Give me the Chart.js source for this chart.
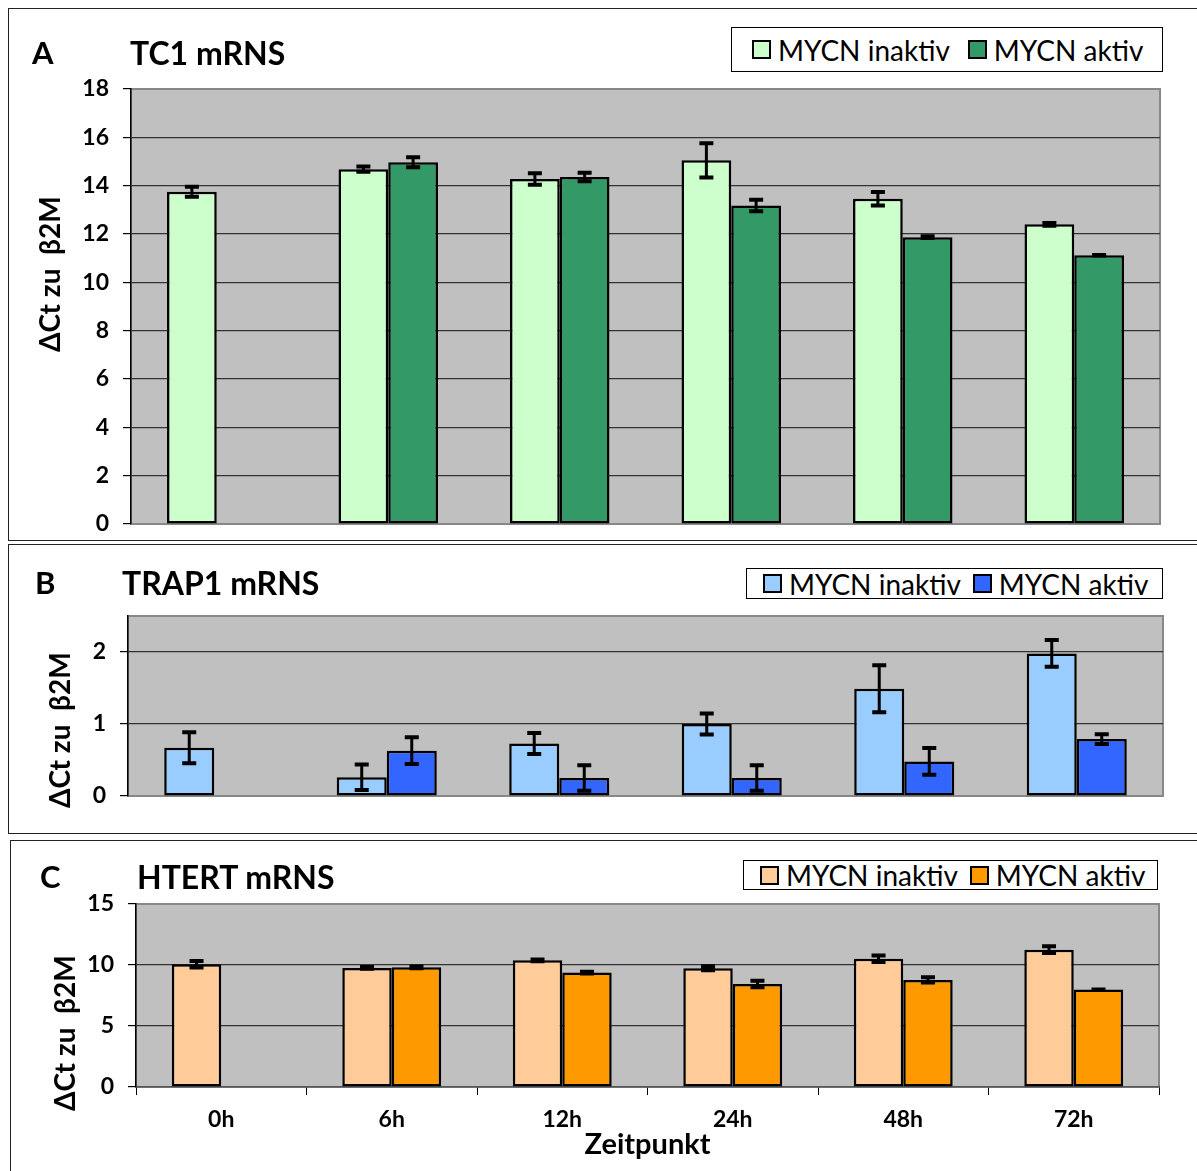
<!DOCTYPE html>
<html>
<head>
  <meta charset="UTF-8">
  <title>TC1 / TRAP1 / HTERT mRNS</title>
  <script src="https://cdn.jsdelivr.net/npm/chart.js"></script>
  <style>
    body { margin: 0; background: #fff; font-family: Lato, sans-serif; }
    #page { position: relative; width: 1197px; height: 1171px; overflow: hidden; background: #fff; }
    .panel { position: absolute; border: 1.5px solid #222; box-sizing: border-box; }
    canvas { position: absolute; left: 0; }
    .txt { position: absolute; font-weight: bold; color: #000; white-space: nowrap; line-height: 1; }
    .ytitle { position: absolute; font-weight: bold; font-size: 28px; white-space: pre; line-height: 1;
              transform-origin: 0 0; transform: rotate(-90deg); }
    .legend { position: absolute; border: 1px solid #000; background: #fff; box-sizing: border-box;
              font-size: 28px; white-space: nowrap; display: flex; align-items: center; padding-left: 20px;
              overflow: hidden; }
    .legend .sw { display: inline-block; flex-shrink: 0; width: 15px; height: 15px; border: 2px solid #000; margin-right: 7px; }
    .legend .lab { flex-shrink: 0; margin-right: 18px; line-height: 1; }
    #legB, #legC { padding-left: 16px; }
    #legB .lab, #legC .lab { margin-right: 12px; }
  </style>
</head>
<body>
<div id="page">
  <div class="panel" style="left:8px;top:8px;width:1200px;height:533px"></div>
  <div class="panel" style="left:8px;top:544px;width:1200px;height:290px"></div>
  <div class="panel" style="left:10px;top:840px;width:1200px;height:340px"></div>

  <canvas id="chartA" width="1197" height="553" style="top:0px"></canvas>
  <canvas id="chartB" width="1197" height="290" style="top:544px"></canvas>
  <canvas id="chartC" width="1197" height="331" style="top:840px"></canvas>

  <div class="txt" style="left:32px;top:37px;font-size:31px">A</div>
  <div class="txt" style="left:130px;top:37px;font-size:32px">TC1 mRNS</div>
  <div class="txt" style="left:35px;top:567px;font-size:31px">B</div>
  <div class="txt" style="left:122px;top:567px;font-size:32px">TRAP1 mRNS</div>
  <div class="txt" style="left:40px;top:861px;font-size:31px">C</div>
  <div class="txt" style="left:137px;top:861px;font-size:32px">HTERT mRNS</div>

  <div class="ytitle" style="left:35px;top:352px">ΔCt zu  β2M</div>
  <div class="ytitle" style="left:45px;top:808px">ΔCt zu  β2M</div>
  <div class="ytitle" style="left:50px;top:1111px">ΔCt zu  β2M</div>

  <div class="legend" id="legA" style="left:731px;top:27px;width:432px;height:45px"></div>
  <div class="legend" id="legB" style="left:746px;top:568px;width:417px;height:31px"></div>
  <div class="legend" id="legC" style="left:743px;top:860px;width:415px;height:30px"></div>
</div>

<script>
  // categories (time points) and series names
  const timepoints = ['0h', '6h', '12h', '24h', '48h', '72h'];
  const seriesNames = ['MYCN inaktiv', 'MYCN aktiv'];

  // A: TC1 mRNS
  const tc1Inaktiv = [13.75, 14.68, 14.28, 15.05, 13.46, 12.40];
  const tc1Aktiv   = [null, 14.97, 14.36, 13.18, 11.87, 11.12];
  const tc1InaktivErr = [0.25, 0.15, 0.28, 0.75, 0.32, 0.10];
  const tc1AktivErr   = [0, 0.25, 0.22, 0.28, 0.08, 0.05];

  // B: TRAP1 mRNS
  const trap1Inaktiv = [0.67, 0.26, 0.73, 1.00, 1.49, 1.98];
  const trap1Aktiv   = [null, 0.63, 0.25, 0.25, 0.48, 0.79];
  const trap1InaktivErr = [0.23, 0.19, 0.16, 0.16, 0.34, 0.20];
  const trap1AktivErr   = [0, 0.20, 0.19, 0.19, 0.20, 0.08];

  // C: HTERT mRNS
  const htertInaktiv = [10.06, 9.76, 10.38, 9.73, 10.52, 11.26];
  const htertAktiv   = [null, 9.81, 9.38, 8.45, 8.78, 7.99];
  const htertInaktivErr = [0.35, 0.15, 0.15, 0.25, 0.35, 0.35];
  const htertAktivErr   = [0, 0.15, 0.15, 0.35, 0.30, 0.08];

  const colorsA = ['#ccffcc', '#339966'];
  const colorsB = ['#99ccff', '#3366ff'];
  const colorsC = ['#ffcc99', '#ff9900'];

  // grey plot background + frame
  const plotBg = {
    id: 'plotBg',
    beforeDraw(chart) {
      const a = chart.chartArea, ctx = chart.ctx;
      ctx.save();
      ctx.fillStyle = '#c0c0c0';
      ctx.fillRect(a.left, a.top, a.right - a.left, a.bottom - a.top);
      ctx.strokeStyle = '#888';
      ctx.lineWidth = 2;
      ctx.strokeRect(a.left, a.top, a.right - a.left, a.bottom - a.top);
      ctx.restore();
    }
  };

  // error bars from dataset.errors
  const errorBars = {
    id: 'errorBars',
    afterDatasetsDraw(chart) {
      const ctx = chart.ctx, y = chart.scales.y;
      ctx.save();
      ctx.strokeStyle = '#000';
      chart.data.datasets.forEach((ds, i) => {
        chart.getDatasetMeta(i).data.forEach((bar, j) => {
          const v = ds.data[j];
          if (v === null) return;
          const e = ds.errors[j];
          const top = y.getPixelForValue(v + e);
          const bot = y.getPixelForValue(Math.max(v - e, 0));
          ctx.lineWidth = 3;
          ctx.beginPath();
          ctx.moveTo(bar.x, top); ctx.lineTo(bar.x, bot);
          ctx.stroke();
          ctx.lineWidth = 4;
          ctx.beginPath();
          ctx.moveTo(bar.x - 7, top + 1); ctx.lineTo(bar.x + 7, top + 1);
          ctx.moveTo(bar.x - 7, bot - 1); ctx.lineTo(bar.x + 7, bot - 1);
          ctx.stroke();
        });
      });
      ctx.restore();
    }
  };

  function makeLegend(id, colors) {
    const el = document.getElementById(id);
    seriesNames.forEach((name, i) => {
      el.innerHTML += `<span class="sw" style="background:${colors[i]}"></span><span class="lab">${name}</span>`;
    });
  }

  function makePanel(id, inaktiv, aktiv, errI, errA, colors, yMax, step, pad, showX) {
    const ctx = document.getElementById(id).getContext('2d');
    return new Chart(ctx, {
      type: 'bar',
      data: {
        labels: timepoints,
        datasets: [
          { label: seriesNames[0], data: inaktiv, errors: errI, backgroundColor: colors[0] },
          { label: seriesNames[1], data: aktiv, errors: errA, backgroundColor: colors[1] }
        ]
      },
      options: {
        responsive: false,
        animation: false,
        layout: { padding: pad },
        datasets: {
          bar: {
            borderColor: '#000', borderWidth: 2.5, borderSkipped: false,
            categoryPercentage: 0.58, barPercentage: 1.0
          }
        },
        plugins: { legend: { display: false }, tooltip: { enabled: false } },
        scales: {
          x: {
            display: showX,
            grid: { display: true, drawOnChartArea: false, tickLength: 8, color: '#000', offset: true },
            border: { display: true, color: '#555', width: 1.5 },
            ticks: { color: '#000', font: { family: 'Lato', size: 23, weight: 'bold' }, padding: 11 },
            title: { display: showX, text: 'Zeitpunkt', color: '#000', padding: 0,
                     font: { family: 'Lato', size: 29, weight: 'bold' } },
            afterFit(s) { s.height = showX ? 75 : 0; }
          },
          y: {
            min: 0, max: yMax,
            afterBuildTicks(s) { s.ticks = s.ticks.filter(t => t.value % step === 0); },
            ticks: { stepSize: step, color: '#000', padding: 14,
                     font: { family: 'Lato', size: 23, weight: 'bold' } },
            grid: {
              tickLength: 8, tickColor: '#000', lineWidth: 1.2,
              color: c => (c.tick && c.tick.value === yMax) ? 'rgba(0,0,0,0)'
                         : (c.tick && c.tick.value === 0 ? '#888' : '#333')
            },
            border: { display: true, color: '#000', width: 1.5 },
            afterFit(s) { s.width = 100; }
          }
        }
      },
      plugins: [plotBg, errorBars]
    });
  }

  makeLegend('legA', colorsA);
  makeLegend('legB', colorsB);
  makeLegend('legC', colorsC);

  makePanel('chartA', tc1Inaktiv, tc1Aktiv, tc1InaktivErr, tc1AktivErr, colorsA, 18, 2,
            { left: 31, right: 37, top: 89, bottom: 29 }, false);
  makePanel('chartB', trap1Inaktiv, trap1Aktiv, trap1InaktivErr, trap1AktivErr, colorsB, 2.5, 1,
            { left: 28, right: 34, top: 72, bottom: 38 }, false);
  makePanel('chartC', htertInaktiv, htertAktiv, htertInaktivErr, htertAktivErr, colorsC, 15, 5,
            { left: 36, right: 38, top: 64, bottom: 9 }, true);
</script>
</body>
</html>
